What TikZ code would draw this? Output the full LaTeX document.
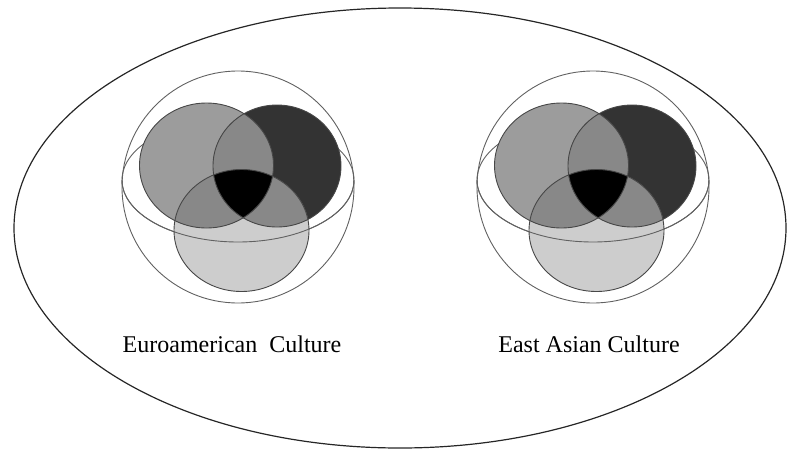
\documentclass[tikz,border=0pt]{standalone}
\usepackage{fontspec}
\setmainfont{Liberation Serif}
\definecolor{cA}{HTML}{9C9C9C}
\definecolor{cB}{HTML}{333333}
\definecolor{cC}{HTML}{CDCDCD}
\definecolor{cAB}{HTML}{888888}
\tikzset{
  outerline/.style={draw=black!85, line width=1.2pt},
  shell/.style={draw=black!62, line width=0.9pt},
  blob/.style={draw=black!72, line width=0.9pt},
  culturetext/.style={anchor=base, inner sep=0pt, font=\fontsize{24}{28}\selectfont},
  tlshape/.style={x radius=67pt, y radius=62.5pt},
  trshape/.style={x radius=64pt, y radius=61pt},
  bshape/.style={x radius=67.5pt, y radius=61pt},
}
\begin{document}
\begin{tikzpicture}[x=1pt, y=-1pt]
\useasboundingbox (0,0) rectangle (787,453);
\coordinate (world) at (400,228);
\draw[outerline] (world) ellipse[x radius=386pt, y radius=220pt];
\foreach \dx/\n in {0/L, 355/R}{
  \begin{scope}[xshift=\dx pt]
    \coordinate (\n-big) at (238,187);
    \coordinate (\n-eq) at (238,180);
    \coordinate (\n-eqw) at (122,180);
    \coordinate (\n-tl) at (206.5,165.5);
    \coordinate (\n-tr) at (277,166);
    \coordinate (\n-b) at (241.5,230.5);
    \draw[shell] (\n-big) circle[radius=116pt];
    \draw[shell] (\n-eq) ellipse[x radius=116pt, y radius=62pt];
    \fill[cA] (\n-tl) ellipse[tlshape];
    \fill[cB] (\n-tr) ellipse[trshape];
    \fill[cC] (\n-b) ellipse[bshape];
    \begin{scope}
      \clip (\n-tl) ellipse[tlshape];
      \fill[cAB] (\n-tr) ellipse[trshape];
      \fill[cAB] (\n-b) ellipse[bshape];
    \end{scope}
    \begin{scope}
      \clip (\n-tr) ellipse[trshape];
      \fill[cAB] (\n-b) ellipse[bshape];
      \clip (\n-b) ellipse[bshape];
      \fill[black] (\n-tl) ellipse[tlshape];
    \end{scope}
    \draw[shell] (\n-eqw) arc[start angle=180, end angle=360, x radius=116pt, y radius=62pt];
    \draw[blob] (\n-tl) ellipse[tlshape];
    \draw[blob] (\n-tr) ellipse[trshape];
    \draw[blob] (\n-b) ellipse[bshape];
  \end{scope}
}
\node[culturetext] (euro) at (232,352.7) {Euroamerican\ \ Culture};
\node[culturetext] (asia) at (589,352.7) {East Asian Culture};
\end{tikzpicture}
\end{document}
